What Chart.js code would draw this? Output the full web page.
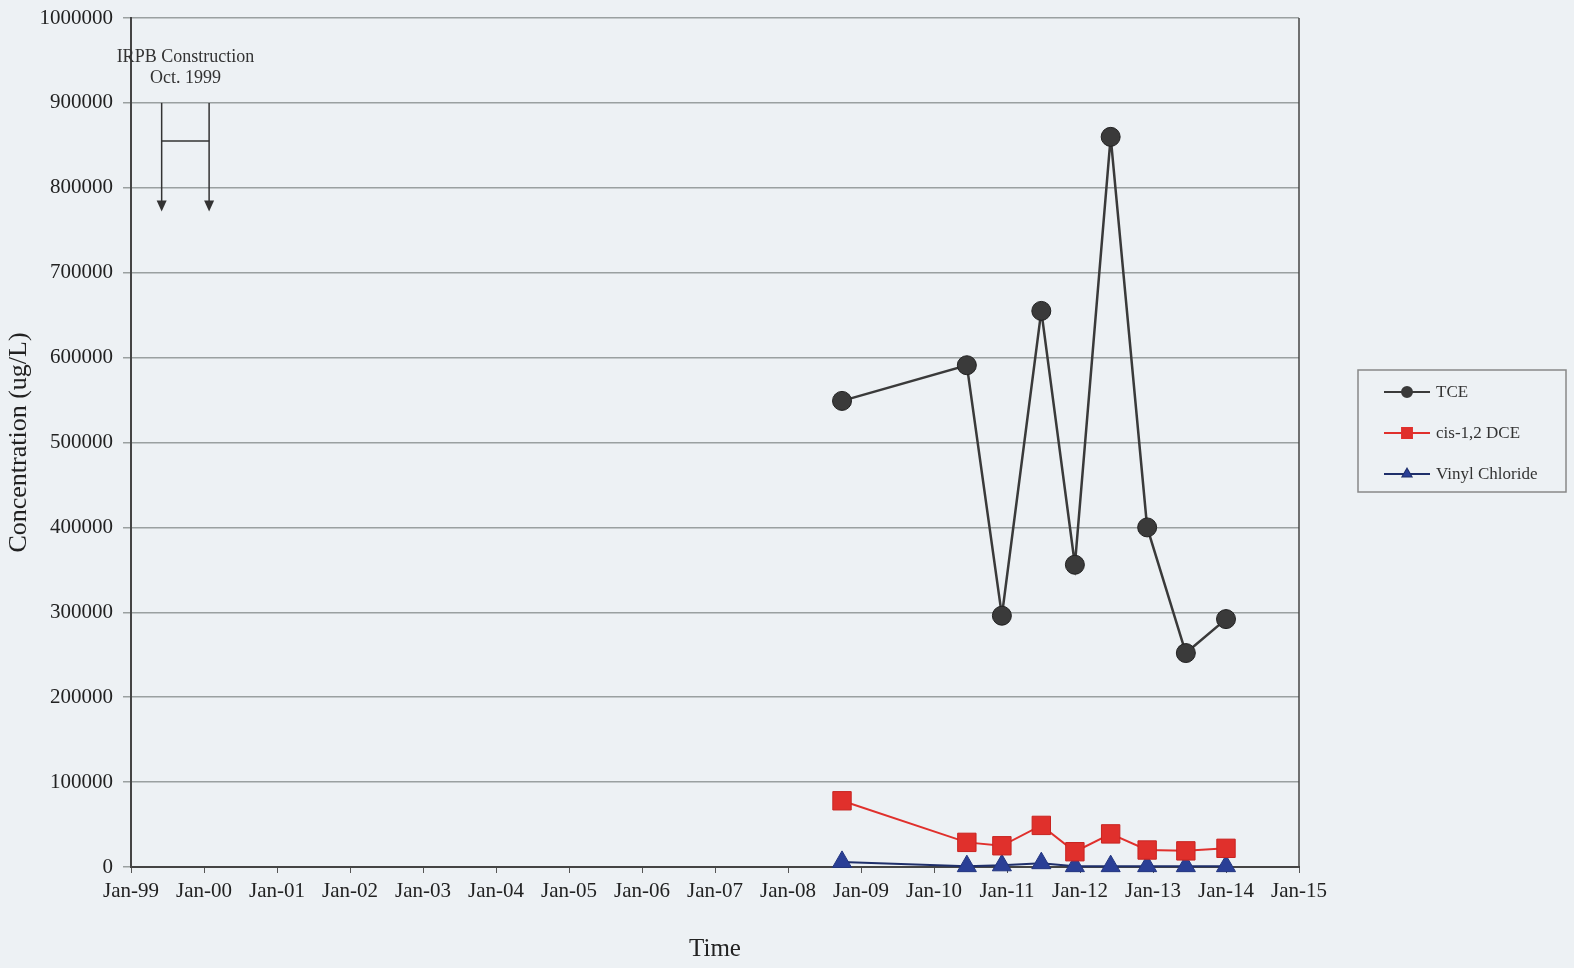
<!DOCTYPE html>
<html>
<head>
<meta charset="utf-8">
<script src="https://cdn.jsdelivr.net/npm/chart.js@4.4.0/dist/chart.umd.min.js"></script>
<style>
  html, body { margin: 0; padding: 0; background: #edf1f4; }
  #wrap { width: 1574px; height: 968px; }
</style>
</head>
<body>
<div id="wrap"><canvas id="concChart" width="1574" height="968"></canvas></div>
<script>
// sampling dates in decimal years
const sampleDates = [2008.74, 2010.45, 2010.93, 2011.47, 2011.93, 2012.42, 2012.92, 2013.45, 2014.0];
const tceValues = [549000, 591000, 296000, 655000, 356000, 860000, 400000, 252000, 292000];
const dceValues = [78000, 29000, 25000, 49000, 18000, 39000, 20000, 19000, 22000];
const vcValues = [6000, 1000, 2000, 4500, 1000, 1000, 1000, 1000, 1000];
const seriesNames = ['TCE', 'cis-1,2 DCE', 'Vinyl Chloride'];

const SERIF = '"Liberation Serif", "DejaVu Serif", serif';

function toPoints(vals) {
  return sampleDates.map((d, i) => ({ x: d, y: vals[i] }));
}

// background, right border, construction annotation, boxed legend
const decorPlugin = {
  id: 'decor',
  beforeDraw(chart) {
    const ctx = chart.ctx;
    ctx.save();
    ctx.fillStyle = '#edf1f4';
    ctx.fillRect(0, 0, chart.width, chart.height);
    ctx.restore();
  },
  afterDraw(chart) {
    const ctx = chart.ctx;
    const xs = chart.scales.x, ys = chart.scales.y;
    const area = chart.chartArea;
    ctx.save();

    // right frame line
    ctx.strokeStyle = '#444';
    ctx.lineWidth = 1.5;
    ctx.beginPath();
    ctx.moveTo(area.right, area.top);
    ctx.lineTo(area.right, area.bottom);
    ctx.stroke();

    // IRPB construction bracket
    const xa = xs.getPixelForValue(1999.42), xb = xs.getPixelForValue(2000.07);
    const yTop = ys.getPixelForValue(900000), yTip = ys.getPixelForValue(772000);
    const yMid = ys.getPixelForValue(855000);
    ctx.strokeStyle = '#333';
    ctx.fillStyle = '#333';
    ctx.lineWidth = 1.5;
    [xa, xb].forEach(px => {
      ctx.beginPath();
      ctx.moveTo(px, yTop);
      ctx.lineTo(px, yTip - 10);
      ctx.stroke();
      ctx.beginPath();
      ctx.moveTo(px - 5, yTip - 11);
      ctx.lineTo(px + 5, yTip - 11);
      ctx.lineTo(px, yTip);
      ctx.closePath();
      ctx.fill();
    });
    ctx.beginPath();
    ctx.moveTo(xa, yMid);
    ctx.lineTo(xb, yMid);
    ctx.stroke();

    ctx.font = '18px ' + SERIF;
    ctx.fillStyle = '#333';
    ctx.textAlign = 'center';
    ctx.textBaseline = 'middle';
    const cx = (xa + xb) / 2;
    ctx.fillText('IRPB Construction', cx, ys.getPixelForValue(954000));
    ctx.fillText('Oct. 1999', cx, ys.getPixelForValue(929000));

    // legend box
    const lx = 1358, ly = 370, lw = 208, lh = 122;
    ctx.strokeStyle = '#888';
    ctx.lineWidth = 1.5;
    ctx.strokeRect(lx, ly, lw, lh);
    ctx.font = '17px ' + SERIF;
    ctx.textAlign = 'left';
    chart.data.datasets.forEach((ds, i) => {
      const y = ly + 22 + i * 41;
      ctx.strokeStyle = ds.borderColor;
      ctx.lineWidth = 2;
      ctx.beginPath();
      ctx.moveTo(lx + 26, y);
      ctx.lineTo(lx + 72, y);
      ctx.stroke();
      Chart.helpers.drawPoint(ctx, {
        pointStyle: ds.pointStyle, radius: ds.pointStyle === 'rect' ? 7 : 5, rotation: 0,
        borderWidth: 1
      }, lx + 49, y);
      ctx.fillStyle = ds.pointBackgroundColor;
      ctx.fill();
      ctx.fillStyle = '#333';
      ctx.fillText(seriesNames[i], lx + 78, y + 1);
    });
    ctx.restore();
  }
};

const ctx = document.getElementById('concChart').getContext('2d');
new Chart(ctx, {
  type: 'line',
  data: {
    datasets: [
      {
        label: seriesNames[0],
        data: toPoints(tceValues),
        borderColor: '#3a3a3a',
        borderWidth: 2.5,
        pointStyle: 'circle',
        pointRadius: 9.5,
        pointBackgroundColor: '#3a3a3a',
        pointBorderColor: '#222',
        pointBorderWidth: 1,
        clip: false
      },
      {
        label: seriesNames[1],
        data: toPoints(dceValues),
        borderColor: '#e0302c',
        borderWidth: 2,
        pointStyle: 'rect',
        pointRadius: 13,
        pointBackgroundColor: '#e0302c',
        pointBorderColor: '#c82420',
        pointBorderWidth: 1,
        clip: false
      },
      {
        label: seriesNames[2],
        data: toPoints(vcValues),
        borderColor: '#1f2f6a',
        borderWidth: 2,
        pointStyle: 'triangle',
        pointRadius: 11,
        pointBackgroundColor: '#2a3f96',
        pointBorderColor: '#22357f',
        pointBorderWidth: 1,
        clip: false
      }
    ]
  },
  options: {
    responsive: false,
    animation: false,
    layout: { padding: { top: 18, right: 275, left: 0, bottom: 0 } },
    plugins: {
      legend: { display: false },
      tooltip: { enabled: false }
    },
    elements: { line: { tension: 0 } },
    scales: {
      x: {
        type: 'linear',
        min: 1999,
        max: 2015,
        afterFit(scale) { scale.height = 101; },
        ticks: {
          stepSize: 1,
          autoSkip: false,
          maxRotation: 0,
          padding: 6,
          color: '#222',
          font: { family: SERIF, size: 21 },
          callback: v => 'Jan-' + String(v % 100).padStart(2, '0')
        },
        grid: { drawOnChartArea: false, tickLength: 6, color: '#555' },
        border: { color: '#444', width: 2 },
        title: {
          display: true,
          text: 'Time',
          color: '#222',
          font: { family: SERIF, size: 25 },
          padding: { top: 22 }
        }
      },
      y: {
        min: 0,
        max: 1000000,
        afterFit(scale) {
          scale.width = 131;
          scale.paddingTop = 0;
          scale.paddingBottom = 0;
        },
        ticks: {
          stepSize: 100000,
          padding: 10,
          color: '#222',
          font: { family: SERIF, size: 21 },
          callback: v => String(v)
        },
        grid: { color: '#9aa0a0', lineWidth: 1.5, tickLength: 8 },
        border: { color: '#444', width: 2 },
        title: {
          display: true,
          text: 'Concentration (ug/L)',
          color: '#222',
          font: { family: SERIF, size: 26 },
          padding: { top: 4, bottom: 0 }
        }
      }
    }
  },
  plugins: [decorPlugin]
});
</script>
</body>
</html>
